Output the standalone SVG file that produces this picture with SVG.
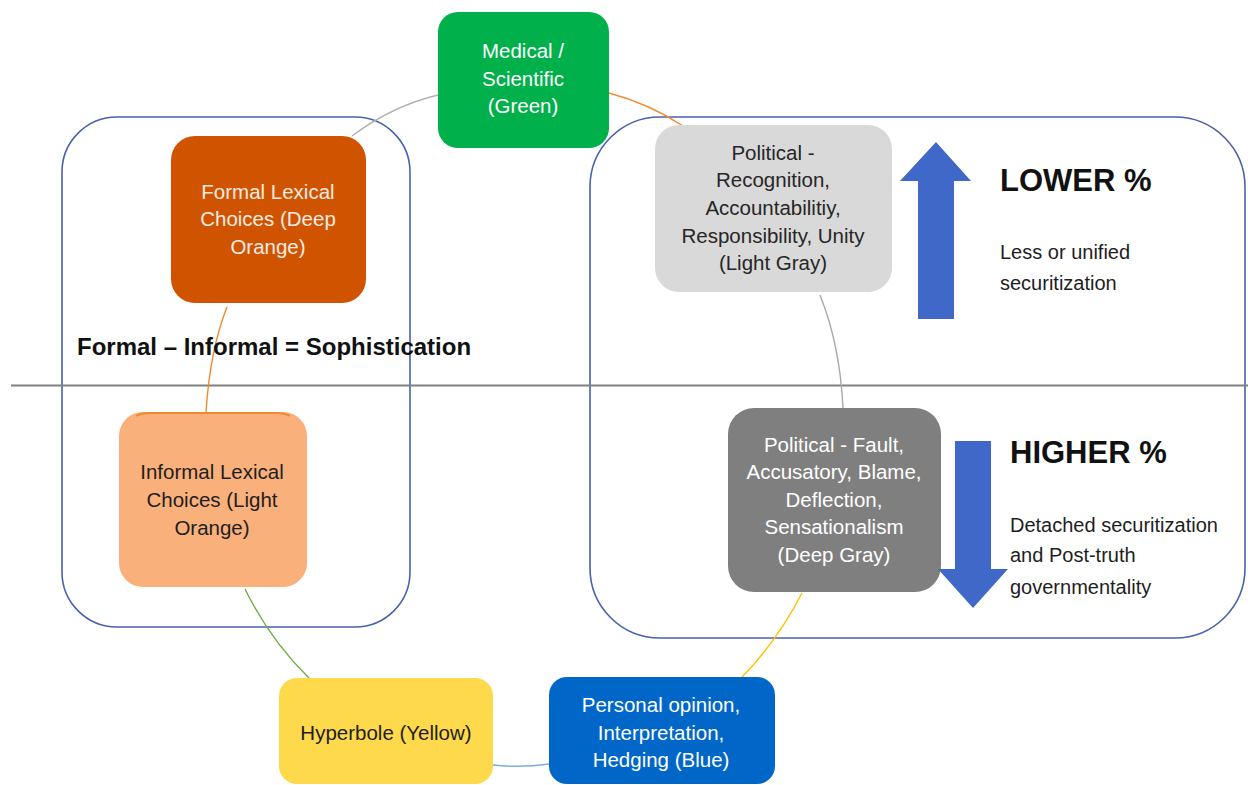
<svg xmlns="http://www.w3.org/2000/svg" width="1248" height="785" viewBox="0 0 1248 785">
<style>
text{font-family:"Liberation Sans",Arial,sans-serif;}
.t{font-size:20.5px;text-anchor:middle;}
.w{fill:#ffffff;}
.d{fill:#1e1e1e;}
.cont{fill:none;stroke:#4a62ad;stroke-width:1.6;}
.con{fill:none;stroke-width:1.4;}
.big{font-size:31px;font-weight:bold;fill:#111;}
.note{font-size:20px;fill:#1e1e1e;}
</style>
<rect width="1248" height="785" fill="#ffffff"/>
<g id="containers">
<rect class="cont" x="62" y="117" width="348" height="510" rx="55"/>
<rect class="cont" x="590" y="117" width="655" height="521" rx="70"/>
</g>
<line x1="11" y1="385.5" x2="1248" y2="385.5" stroke="#808080" stroke-width="2"/>
<g id="connectors">
<path class="con" stroke="#b0b0b0" d="M438,95 Q392,106 352,136"/>
<path class="con" stroke="#f08a30" d="M609,93 Q650,104 683,126"/>
<path class="con" stroke="#a8a8a8" d="M820,295 Q840,345 843,408"/>
<path class="con" stroke="#ffc000" d="M802,593 Q778,640 742,677"/>
<path class="con" stroke="#7aaee0" stroke-width="2" d="M493,765 Q521,768 549,764"/>
<path class="con" stroke="#70ad47" d="M245,589 Q270,640 309,678"/>
<path class="con" stroke="#f08a30" d="M227,307 Q210,350 206,412"/>
</g>
<g id="medical">
<rect x="438" y="12" width="171" height="136" rx="20" fill="#00b04a"/>
<text class="t w" x="523" y="58">Medical /</text>
<text class="t w" x="523" y="86">Scientific</text>
<text class="t w" x="523" y="113">(Green)</text>
</g>
<g id="formal">
<rect x="171" y="136" width="195" height="167" rx="24" fill="#d05400"/>
<text class="t" fill="#f6ebe2" x="268" y="199">Formal Lexical</text>
<text class="t" fill="#f6ebe2" x="268" y="226">Choices (Deep</text>
<text class="t" fill="#f6ebe2" x="268" y="254">Orange)</text>
</g>
<g id="informal">
<rect x="119" y="412" width="188" height="175" rx="24" fill="#f9b07b"/>
<path d="M136,416 Q141,413 150,413 L276,413 Q285,413 290,416" fill="none" stroke="#f08a30" stroke-width="2"/>
<text class="t d" x="212" y="479">Informal Lexical</text>
<text class="t d" x="212" y="507">Choices (Light</text>
<text class="t d" x="212" y="535">Orange)</text>
</g>
<g id="hyperbole">
<rect x="279" y="678" width="214" height="106" rx="18" fill="#fdd94b"/>
<text class="t d" x="386" y="740">Hyperbole (Yellow)</text>
</g>
<g id="personal">
<rect x="549" y="677" width="226" height="107" rx="18" fill="#0067c8"/>
<text class="t w" x="661" y="712">Personal opinion,</text>
<text class="t w" x="661" y="740">Interpretation,</text>
<text class="t w" x="661" y="767">Hedging (Blue)</text>
</g>
<g id="political-light">
<rect x="655" y="125" width="237" height="167" rx="24" fill="#d9d9d9"/>
<text class="t" fill="#262626" x="773" y="160">Political -</text>
<text class="t" fill="#262626" x="773" y="187">Recognition,</text>
<text class="t" fill="#262626" x="773" y="215">Accountabilitiy,</text>
<text class="t" fill="#262626" x="773" y="243">Responsibility, Unity</text>
<text class="t" fill="#262626" x="773" y="270">(Light Gray)</text>
</g>
<g id="political-deep">
<rect x="728" y="408" width="213" height="184" rx="26" fill="#7f7f7f"/>
<text class="t w" x="834" y="452">Political - Fault,</text>
<text class="t w" x="834" y="479">Accusatory, Blame,</text>
<text class="t w" x="834" y="507">Deflection,</text>
<text class="t w" x="834" y="534">Sensationalism</text>
<text class="t w" x="834" y="562">(Deep Gray)</text>
</g>
<g id="arrow-up">
<polygon points="936,142 971,181 954,181 954,319 918,319 918,181 900,181" fill="#4068c8"/>
</g>
<g id="arrow-down">
<polygon points="955,441 991,441 991,569 1008,569 973,608 938,569 955,569" fill="#4068c8"/>
</g>
<g id="labels">
<text x="77" y="355" font-size="24" font-weight="bold" fill="#111">Formal – Informal = Sophistication</text>
<text class="big" x="1000" y="191">LOWER %</text>
<text class="note" x="1000" y="259">Less or unified</text>
<text class="note" x="1000" y="290">securitization</text>
<text class="big" x="1010" y="463">HIGHER %</text>
<text class="note" x="1010" y="532">Detached securitization</text>
<text class="note" x="1010" y="562">and Post-truth</text>
<text class="note" x="1010" y="594">governmentality</text>
</g>
</svg>
